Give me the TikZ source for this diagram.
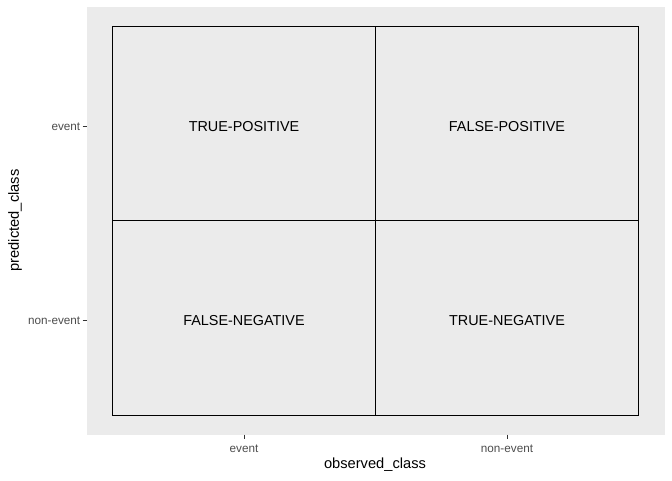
\documentclass[tikz,border=0pt]{standalone}
\usepackage{fontspec}
\setmainfont{Liberation Sans}
\definecolor{panelgray}{HTML}{EBEBEB}
\definecolor{ticktext}{HTML}{4D4D4D}
\definecolor{tickline}{HTML}{333333}
\begin{document}
\begin{tikzpicture}[x=0.75pt,y=-0.75pt,
  cellbox/.style={draw=black,line width=0.75pt,fill=panelgray},
  celltext/.style={font=\fontsize{10.8}{12}\selectfont,text=black},
  ticklab/.style={font=\fontsize{8.8}{10}\selectfont,text=ticktext,inner sep=0pt},
  axtitle/.style={font=\fontsize{11}{13}\selectfont,text=black,inner sep=0pt},
  tickmark/.style={draw=tickline,line width=0.75pt}]
\useasboundingbox (0,0) rectangle (672,480);
% panel background
\fill[panelgray] (86.5,7) rectangle (664.5,434.5);
% confusion matrix tiles
\draw[cellbox] (112.5,26) rectangle (375.5,220.5);
\draw[cellbox] (375.5,26) rectangle (638.5,220.5);
\draw[cellbox] (112.5,220.5) rectangle (375.5,415.5);
\draw[cellbox] (375.5,220.5) rectangle (638.5,415.5);
\node[celltext] (tp) at (244,126.5) {TRUE-POSITIVE};
\node[celltext] (fp) at (507,126.5) {FALSE-POSITIVE};
\node[celltext] (fn) at (244,320.5) {FALSE-NEGATIVE};
\node[celltext] (tn) at (507,320.5) {TRUE-NEGATIVE};
% y axis ticks and labels
\coordinate (ye1) at (82.5,126);
\coordinate (ye2) at (86.5,126);
\coordinate (yn1) at (82.5,320);
\coordinate (yn2) at (86.5,320);
\draw[tickmark] (ye1) -- (ye2);
\draw[tickmark] (yn1) -- (yn2);
\node[ticklab,anchor=east] (yev) at (80.5,126.5) {event};
\node[ticklab,anchor=east] (ynev) at (80.5,320.5) {non-event};
% x axis ticks and labels
\coordinate (xe1) at (244,434.5);
\coordinate (xe2) at (244,438.5);
\coordinate (xn1) at (507,434.5);
\coordinate (xn2) at (507,438.5);
\draw[tickmark] (xe1) -- (xe2);
\draw[tickmark] (xn1) -- (xn2);
\node[ticklab] (xev) at (244,449) {event};
\node[ticklab] (xnev) at (507,449) {non-event};
% axis titles
\node[axtitle] (xt) at (375,465) {observed\_class};
\node[axtitle,rotate=90] (yt) at (15,220.5) {predicted\_class};
\end{tikzpicture}
\end{document}
